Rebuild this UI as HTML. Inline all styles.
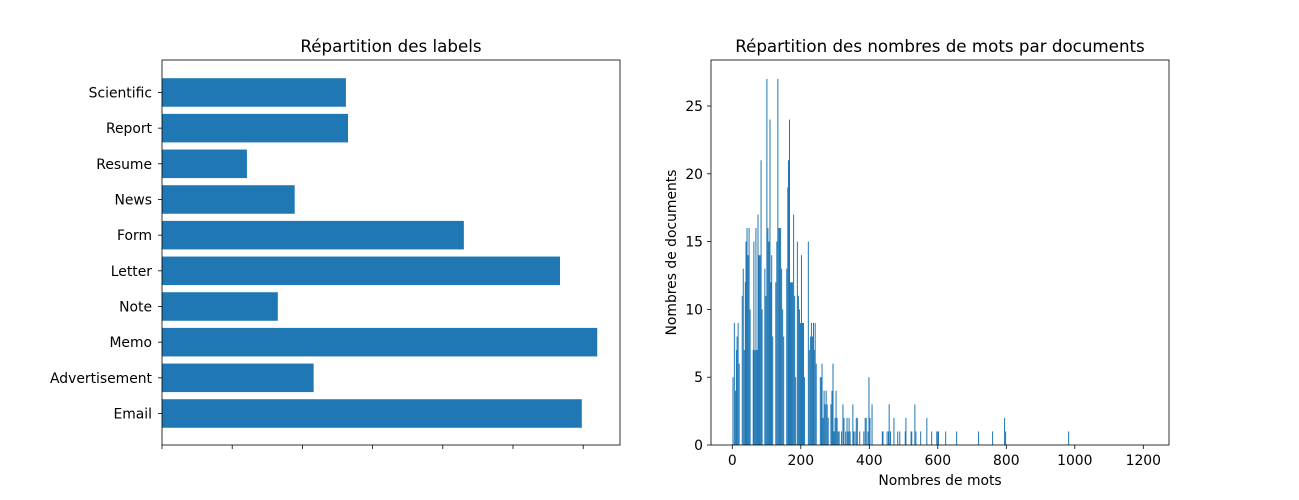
<!DOCTYPE html>
<html><head><meta charset="utf-8">
<style>
html,body{margin:0;padding:0;background:#fff;}
svg{display:block;font-family:"DejaVu Sans","Liberation Sans",sans-serif;}
</style></head>
<body>
<svg id="fig" width="1299" height="500" viewBox="0 0 1299 500" xmlns="http://www.w3.org/2000/svg">
<rect width="1299" height="500" fill="#fff"/>
<g id="left"></g>
<g id="right"></g>
</svg>
<script>
const labelCats = ["Email","Advertisement","Memo","Note","Letter","Form","News","Resume","Report","Scientific"];
const labelCounts = [598,216,620,165,567,430,189,121,265,262];
const labelTicks = [0,100,200,300,400,500,600];

const histX = [2,6,9,12,14,17,20,29,32,35,38,40,43,46,49,52,61,63,66,69,72,75,78,81,84,87,95,98,101,104,107,110,113,115,118,127,130,133,136,138,141,144,147,150,159,162,164,167,170,173,176,179,182,185,190,193,196,199,202,205,208,211,222,225,228,231,234,237,239,242,245,257,260,262,265,268,271,274,277,280,288,291,294,297,300,303,306,309,312,319,323,326,331,335,338,341,344,352,354,358,362,365,372,384,388,391,396,399,402,408,438,440,452,456,458,462,472,483,489,505,507,522,524,533,536,550,568,582,597,600,602,623,655,719,760,795,798,982];
const histY = [5,9,4,7,8,9,6,11,13,7,12,15,16,14,16,10,7,15,7,16,7,17,14,14,21,10,13,11,27,16,15,24,12,14,8,12,15,27,16,16,16,13,10,8,13,19,21,24,12,12,12,17,11,5,15,11,10,9,14,9,9,5,15,7,8,9,8,9,7,9,6,5,5,6,2,4,3,4,3,2,3,4,6,1,2,4,2,1,1,1,3,2,1,2,1,2,1,3,1,1,2,2,1,1,2,2,1,5,2,3,1,1,1,1,3,1,2,1,1,1,2,1,1,3,1,1,2,1,1,1,1,1,1,1,1,2,1,1];
const histXTicks = [0,200,400,600,800,1000,1200];
const histYTicks = [0,5,10,15,20,25];

const NS="http://www.w3.org/2000/svg";
function mk(parent,tag,attrs,text){const e=document.createElementNS(NS,tag);for(const k in attrs)e.setAttribute(k,attrs[k]);if(text!==undefined)e.textContent=text;parent.appendChild(e);return e;}
const C="#1f77b4";
const FS=13.9;

// Left chart
(function(){
 const g=document.getElementById('left');
 const L=162,R=620,T=60,B=445;
 const xs=v=>L+v*0.702;
 const band=35.67;
 const bw=band*0.8;
 const yc=i=>413.5-i*band;
 labelCats.forEach((c,i)=>{
  const r=mk(g,'rect',{x:L,y:yc(i)-bw/2,width:xs(labelCounts[i])-L,height:bw,fill:C});
  
  
  mk(g,'line',{x1:L-4,x2:L,y1:yc(i),y2:yc(i),stroke:'#000','stroke-width':0.8});
  const t=mk(g,'text',{x:L-10,y:yc(i)+5,'text-anchor':'end','font-size':FS},c);
  
  
 });
 labelTicks.forEach(v=>{mk(g,'line',{x1:xs(v),x2:xs(v),y1:B,y2:B+4,stroke:'#000','stroke-width':0.8});});
 const f=mk(g,'rect',{x:L,y:T,width:R-L,height:B-T,fill:'none',stroke:'#000','stroke-width':0.8});
 
 
 const tt=mk(g,'text',{x:(L+R)/2,y:52,'text-anchor':'middle','font-size':16.7},'Répartition des labels');
 
 
})();

// Right chart
(function(){
 const g=document.getElementById('right');
 const L=711,R=1169,T=60,B=445;
 const xs=v=>732.3+v*0.3425;
 const ys=v=>B-v*13.56;
 histX.forEach((x,i)=>{
  const r=mk(g,'rect',{x:xs(x)-0.5,y:ys(histY[i]),width:1,height:B-ys(histY[i]),fill:C});
  
  
 });
 histXTicks.forEach(v=>{
  mk(g,'line',{x1:xs(v),x2:xs(v),y1:B,y2:B+4,stroke:'#000','stroke-width':0.8});
  const t=mk(g,'text',{x:xs(v),y:B+20,'text-anchor':'middle','font-size':FS},String(v));
  
  
 });
 histYTicks.forEach(v=>{
  mk(g,'line',{x1:L-4,x2:L,y1:ys(v),y2:ys(v),stroke:'#000','stroke-width':0.8});
  const t=mk(g,'text',{x:L-8,y:ys(v)+5,'text-anchor':'end','font-size':FS},String(v));
  
  
 });
 const f=mk(g,'rect',{x:L,y:T,width:R-L,height:B-T,fill:'none',stroke:'#000','stroke-width':0.8});
 
 
 const tt=mk(g,'text',{x:(L+R)/2,y:52,'text-anchor':'middle','font-size':16.7},'Répartition des nombres de mots par documents');
 
 
 const xt=mk(g,'text',{x:(L+R)/2,y:485,'text-anchor':'middle','font-size':FS},'Nombres de mots');
 
 
 const yt=mk(g,'text',{x:0,y:0,'text-anchor':'middle','font-size':FS,transform:'translate(676,'+((T+B)/2)+') rotate(-90)'},'Nombres de documents');
 
 
})();
</script>
</body></html>
